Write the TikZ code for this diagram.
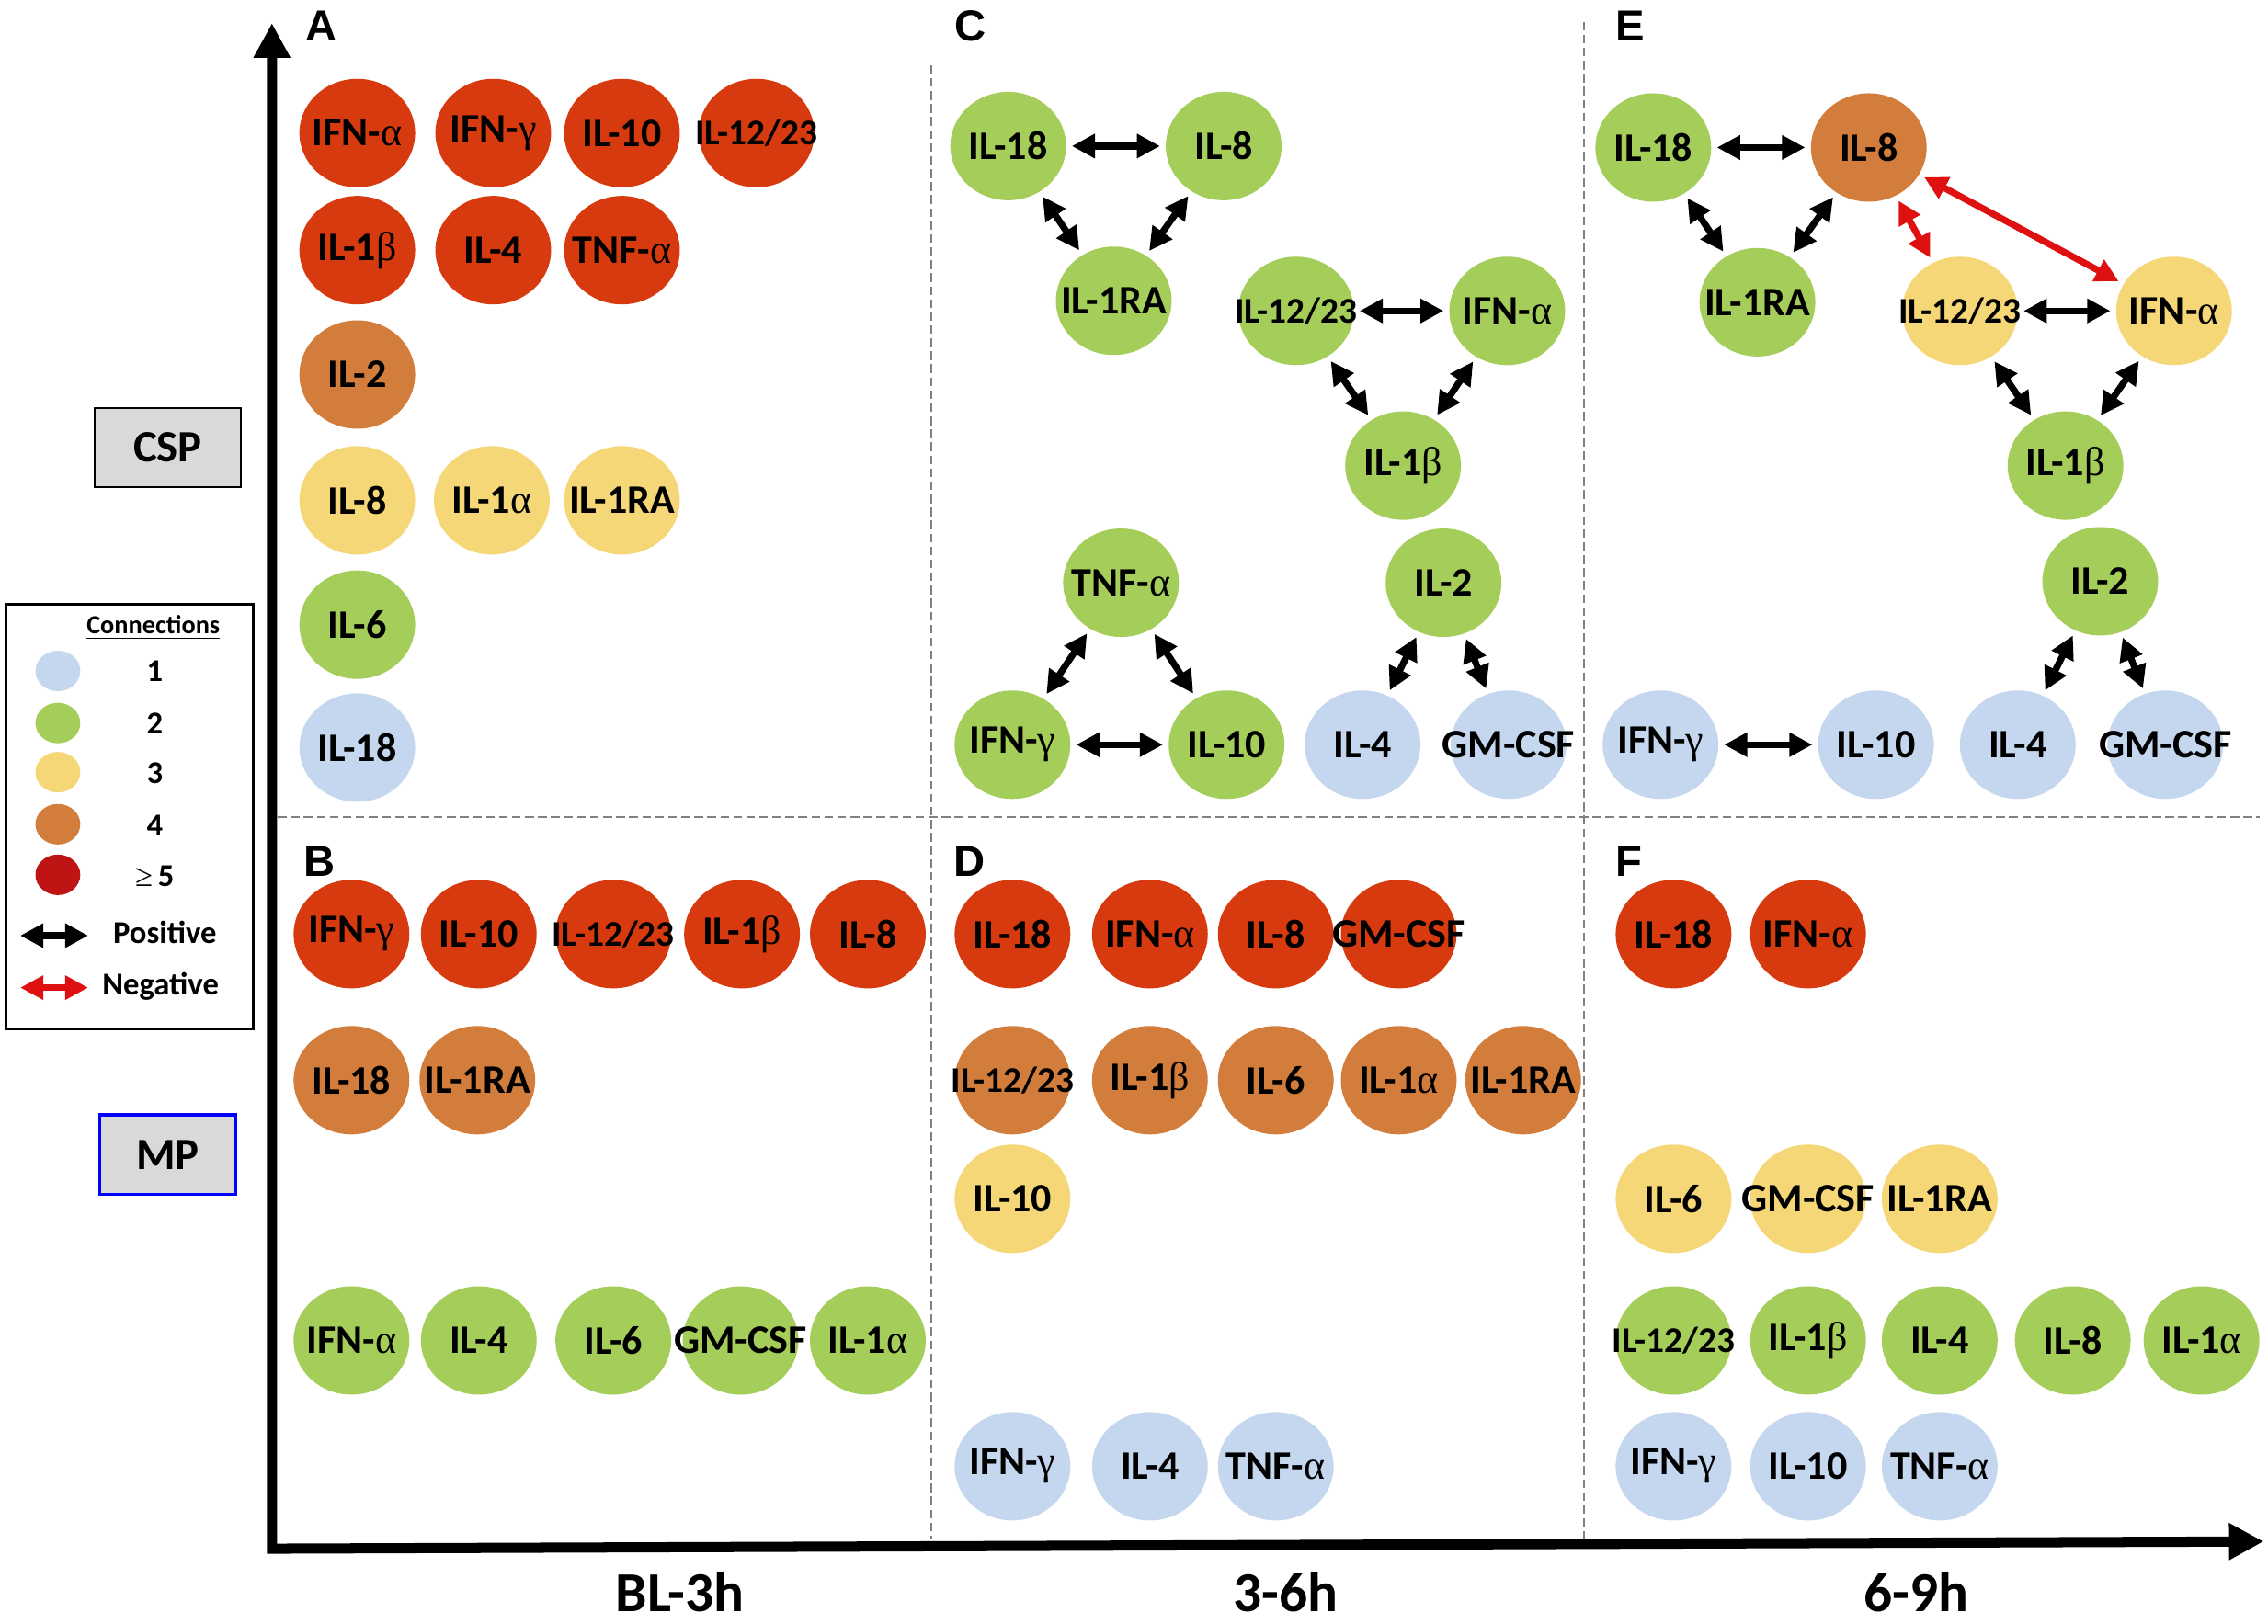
\documentclass[tikz,border=0pt]{standalone}
\usepackage{fontspec}
\setmainfont{Carlito}
\newfontfamily\grk{Liberation Serif}
\newfontfamily\lettfont{Liberation Sans}
\usetikzlibrary{arrows.meta,shapes.geometric}
\tikzset{>={Triangle[length=8pt,width=8pt]}}

\definecolor{cfive}{RGB}{215,58,15}
\definecolor{cfour}{RGB}{210,125,60}
\definecolor{cthree}{RGB}{245,215,120}
\definecolor{ctwo}{RGB}{165,205,90}
\definecolor{cone}{RGB}{197,215,238}
\definecolor{legred}{RGB}{190,20,20}
\definecolor{negred}{RGB}{222,16,16}
\definecolor{boxgray}{RGB}{217,217,217}

\newcommand{\galpha}{{\grk\mdseries α}}
\newcommand{\ggamma}{{\grk\mdseries γ}}
\newcommand{\gbeta}{{\grk\mdseries β}}

\tikzset{
    cyto/.style={ellipse, minimum width=40pt, minimum height=37.5pt, inner sep=0pt,
                 font=\fontsize{14}{16}\selectfont\bfseries,
                 execute at begin node={\hbox to 0pt\bgroup\hss},
                 execute at end node={\hss\egroup}},
    lvlfive/.style={cyto, fill=cfive},
    lvlfour/.style={cyto, fill=cfour},
    lvlthree/.style={cyto, fill=cthree},
    lvltwo/.style={cyto, fill=ctwo},
    lvlone/.style={cyto, fill=cone},
    tight/.style={font=\fontsize{12.5}{14}\selectfont\bfseries},
    posarrow/.style={<->, line width=2.3pt, shorten <=1.8pt, shorten >=1.8pt},
    negarrow/.style={posarrow, negred},
    divider/.style={gray, line width=0.5pt, dash pattern=on 3pt off 1.5pt},
    panel/.style={font=\lettfont\fontsize{15}{18}\selectfont\bfseries},
    period/.style={inner sep=0pt, font=\fontsize{19.5}{22}\selectfont\bfseries},
    groupbox/.style={draw, fill=boxgray, minimum height=27.5pt,
                     font=\fontsize{15.5}{18}\selectfont\bfseries},
    legtext/.style={font=\fontsize{11}{13}\selectfont\bfseries},
    legball/.style={minimum width=15.5pt, minimum height=14pt},
}

\begin{document}
\begin{tikzpicture}[x=0.5pt, y=-0.5pt]
    \useasboundingbox (0,0) rectangle (1568,1123);

    % dashed dividers
    \draw[divider] (192,565) -- (1562,565);
    \draw[divider] (644,45) -- (644,1064);
    \draw[divider] (1095,15) -- (1095,1064);

    % axes
    \coordinate (ytip) at (188,16);
    \coordinate (origin) at (188,1071);
    \coordinate (xtip) at (1565,1066);
    \draw[line width=3.5pt, line join=miter,
          {Triangle[length=12pt,width=12pt]}-{Triangle[length=12pt,width=12pt]}]
        (ytip) -- (origin) -- (xtip);
    \node[period] (tone) at (470,1101) {BL-3h};
    \node[period] (ttwo) at (889,1101) {3-6h};
    \node[period] (tthree) at (1325,1101) {6-9h};

    % groups
    \node[groupbox, line width=0.65pt, minimum width=50.75pt] (csp) at (116,309.5) {CSP};
    \node[groupbox, draw=blue, line width=1pt, minimum width=47pt] (mp) at (116,798.5) {MP};

    % panel letters
    \node[panel] (la) at (222,18) {A};
    \node[panel] (lb) at (221,596) {B};
    \node[panel] (lc) at (671,18) {C};
    \node[panel] (ld) at (670,596) {D};
    \node[panel] (le) at (1127,18) {E};
    \node[panel] (lf) at (1126,596) {F};

    % Panel A
    \node[lvlfive] (aIFNa) at (247,92) {IFN-\galpha};
    \node[lvlfive] (aIFNg) at (341,92) {IFN-\ggamma};
    \node[lvlfive] (aIL10) at (430,92) {IL-10};
    \node[lvlfive, tight] (aIL1223) at (523,92) {IL-12/23};
    \node[lvlfive] (aIL1b) at (247,173) {IL-1\gbeta};
    \node[lvlfive] (aIL4) at (341,173) {IL-4};
    \node[lvlfive] (aTNFa) at (430,173) {TNF-\galpha};
    \node[lvlfour] (aIL2) at (247,259) {IL-2};
    \node[lvlthree] (aIL8) at (247,346) {IL-8};
    \node[lvlthree] (aIL1a) at (340,346) {IL-1\galpha};
    \node[lvlthree] (aIL1RA) at (430,346) {IL-1RA};
    \node[lvltwo] (aIL6) at (247,432) {IL-6};
    \node[lvlone] (aIL18) at (247,517) {IL-18};

    % Panel B
    \node[lvlfive] (bIFNg) at (243,646) {IFN-\ggamma};
    \node[lvlfive] (bIL10) at (331,646) {IL-10};
    \node[lvlfive, tight] (bIL1223) at (424,646) {IL-12/23};
    \node[lvlfive] (bIL1b) at (513,646) {IL-1\gbeta};
    \node[lvlfive] (bIL8) at (600,646) {IL-8};
    \node[lvlfour] (bIL18) at (243,747) {IL-18};
    \node[lvlfour] (bIL1RA) at (330,747) {IL-1RA};
    \node[lvltwo] (bIFNa) at (243,927) {IFN-\galpha};
    \node[lvltwo] (bIL4) at (331,927) {IL-4};
    \node[lvltwo] (bIL6) at (424,927) {IL-6};
    \node[lvltwo] (bGMCSF) at (512,927) {GM-CSF};
    \node[lvltwo] (bIL1a) at (600,927) {IL-1\galpha};

    % Panel C
    \node[lvltwo] (cIL18) at (697,101) {IL-18};
    \node[lvltwo] (cIL8) at (846,101) {IL-8};
    \node[lvltwo] (cIL1RA) at (770,208) {IL-1RA};
    \node[lvltwo, tight] (cIL1223) at (896,215) {IL-12/23};
    \node[lvltwo] (cIFNa) at (1042,215) {IFN-\galpha};
    \node[lvltwo] (cIL1b) at (970,322) {IL-1\gbeta};
    \node[lvltwo] (cTNFa) at (775,403) {TNF-\galpha};
    \node[lvltwo] (cIFNg) at (700,515) {IFN-\ggamma};
    \node[lvltwo] (cIL10) at (848,515) {IL-10};
    \node[lvltwo] (cIL2) at (998,403) {IL-2};
    \node[lvlone] (cIL4) at (942,515) {IL-4};
    \node[lvlone] (cGMCSF) at (1043,515) {GM-CSF};
    \draw[posarrow] (cIL18) -- (cIL8);
    \draw[posarrow] (cIL18) -- (cIL1RA);
    \draw[posarrow] (cIL8) -- (cIL1RA);
    \draw[posarrow] (cIL1223) -- (cIFNa);
    \draw[posarrow] (cIL1223) -- (cIL1b);
    \draw[posarrow] (cIFNa) -- (cIL1b);
    \draw[posarrow] (cTNFa) -- (cIFNg);
    \draw[posarrow] (cTNFa) -- (cIL10);
    \draw[posarrow] (cIFNg) -- (cIL10);
    \draw[posarrow] (cIL2) -- (cIL4);
    \draw[posarrow] (cIL2) -- (cGMCSF);

    % Panel D
    \node[lvlfive] (dIL18) at (700,646) {IL-18};
    \node[lvlfive] (dIFNa) at (795,646) {IFN-\galpha};
    \node[lvlfive] (dIL8) at (882,646) {IL-8};
    \node[lvlfive] (dGMCSF) at (967,646) {GM-CSF};
    \node[lvlfour, tight] (dIL1223) at (700,747) {IL-12/23};
    \node[lvlfour] (dIL1b) at (795,747) {IL-1\gbeta};
    \node[lvlfour] (dIL6) at (882,747) {IL-6};
    \node[lvlfour] (dIL1a) at (967,747) {IL-1\galpha};
    \node[lvlfour] (dIL1RA) at (1053,747) {IL-1RA};
    \node[lvlthree] (dIL10) at (700,829) {IL-10};
    \node[lvlone] (dIFNg) at (700,1014) {IFN-\ggamma};
    \node[lvlone] (dIL4) at (795,1014) {IL-4};
    \node[lvlone] (dTNFa) at (882,1014) {TNF-\galpha};

    % Panel E
    \node[lvltwo] (eIL18) at (1143,102) {IL-18};
    \node[lvlfour] (eIL8) at (1292,102) {IL-8};
    \node[lvltwo] (eIL1RA) at (1215,209) {IL-1RA};
    \node[lvlthree, tight] (eIL1223) at (1355,215) {IL-12/23};
    \node[lvlthree] (eIFNa) at (1503,215) {IFN-\galpha};
    \node[lvltwo] (eIL1b) at (1428,322) {IL-1\gbeta};
    \node[lvltwo] (eIL2) at (1452,402) {IL-2};
    \node[lvlone] (eIL4) at (1395,515) {IL-4};
    \node[lvlone] (eGMCSF) at (1497,515) {GM-CSF};
    \node[lvlone] (eIFNg) at (1148,515) {IFN-\ggamma};
    \node[lvlone] (eIL10) at (1297,515) {IL-10};
    \draw[posarrow] (eIL18) -- (eIL8);
    \draw[posarrow] (eIL18) -- (eIL1RA);
    \draw[posarrow] (eIL8) -- (eIL1RA);
    \draw[negarrow] (eIL8) -- (eIL1223);
    \draw[negarrow] (eIL8) -- (eIFNa);
    \draw[posarrow] (eIL1223) -- (eIFNa);
    \draw[posarrow] (eIL1223) -- (eIL1b);
    \draw[posarrow] (eIFNa) -- (eIL1b);
    \draw[posarrow] (eIL2) -- (eIL4);
    \draw[posarrow] (eIL2) -- (eGMCSF);
    \draw[posarrow] (eIFNg) -- (eIL10);

    % Panel F
    \node[lvlfive] (fIL18) at (1157,646) {IL-18};
    \node[lvlfive] (fIFNa) at (1250,646) {IFN-\galpha};
    \node[lvlthree] (fIL6) at (1157,829) {IL-6};
    \node[lvlthree] (fGMCSF) at (1250,829) {GM-CSF};
    \node[lvlthree] (fIL1RA) at (1341,829) {IL-1RA};
    \node[lvltwo, tight] (fIL1223) at (1157,927) {IL-12/23};
    \node[lvltwo] (fIL1b) at (1250,927) {IL-1\gbeta};
    \node[lvltwo] (fIL4) at (1341,927) {IL-4};
    \node[lvltwo] (fIL8) at (1433,927) {IL-8};
    \node[lvltwo] (fIL1a) at (1522,927) {IL-1\galpha};
    \node[lvlone] (fIFNg) at (1157,1014) {IFN-\ggamma};
    \node[lvlone] (fIL10) at (1250,1014) {IL-10};
    \node[lvlone] (fTNFa) at (1341,1014) {TNF-\galpha};

    % Legend
    \node[draw, line width=0.8pt, minimum width=85.5pt, minimum height=147pt] (legend) at (89.5,565) {};
    \node[font=\fontsize{9}{11}\selectfont\bfseries] (ltitle) at (106,434) {\underline{Connections}};
    \node[lvlone, legball] (lone) at (40,464) {};
    \node[lvltwo, legball] (ltwo) at (40,500) {};
    \node[lvlthree, legball] (lthree) at (40,534) {};
    \node[lvlfour, legball] (lfour) at (40,570) {};
    \node[cyto, legball, fill=legred] (lfive) at (40,605) {};
    \node[legtext] (none) at (107,464) {1};
    \node[legtext] (ntwo) at (107,500) {2};
    \node[legtext] (nthree) at (107,535) {3};
    \node[legtext] (nfour) at (107,571) {4};
    \node[legtext] (nfive) at (107,606) {{\grk\mdseries ≥}\,5};
    \coordinate (pa) at (14,647);
    \coordinate (pb) at (61,647);
    \coordinate (na) at (14,683);
    \coordinate (nb) at (61,683);
    \draw[posarrow, shorten <=0pt, shorten >=0pt] (pa) -- (pb);
    \draw[negarrow, shorten <=0pt, shorten >=0pt] (na) -- (nb);
    \node[legtext] (lpos) at (114,645) {Positive};
    \node[legtext] (lneg) at (111,682) {Negative};
\end{tikzpicture}
\end{document}
